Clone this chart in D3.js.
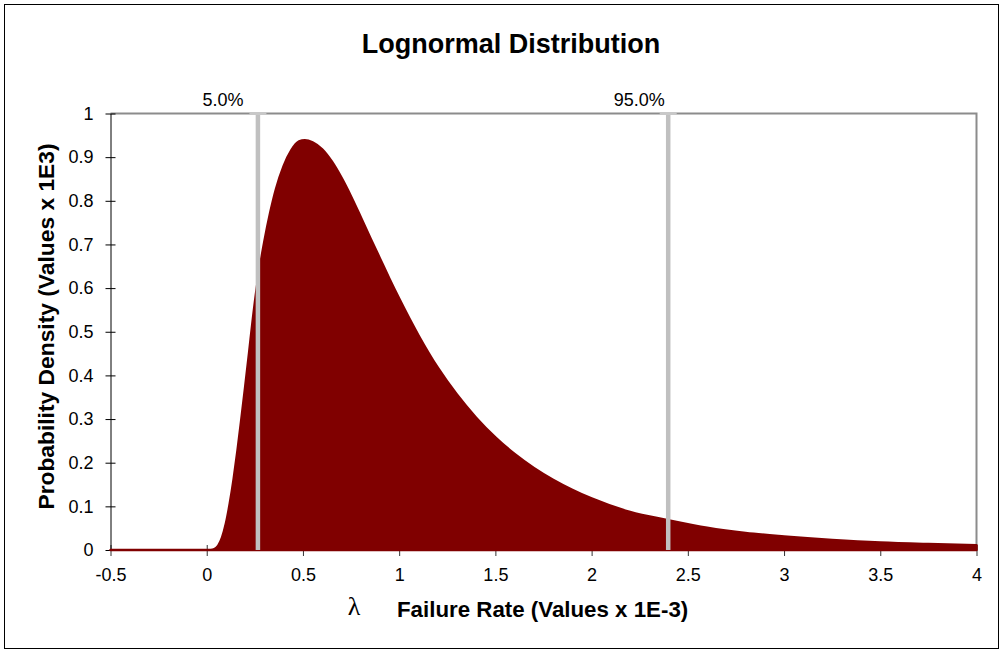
<!DOCTYPE html>
<html>
<head>
<meta charset="utf-8">
<script src="https://cdn.jsdelivr.net/npm/d3@7"></script>
<style>
  html, body { margin: 0; padding: 0; background: #fff; }
  svg { display: block; font-family: Arial, "Liberation Sans", sans-serif; }
</style>
</head>
<body>
<svg id="chart" width="1002" height="652"></svg>
<script>
// Failure rate (x 1E-3) sample points
const rates = [
  -0.5, 0, 0.02, 0.04, 0.06, 0.08, 0.10, 0.12, 0.14, 0.16, 0.18, 0.20,
  0.22, 0.24, 0.26, 0.28, 0.30, 0.33, 0.36, 0.40, 0.44, 0.48, 0.51, 0.55,
  0.60, 0.65, 0.70, 0.75, 0.80, 0.85, 0.90, 0.95, 1.0, 1.1, 1.2, 1.3, 1.4,
  1.5, 1.6, 1.7, 1.8, 1.9, 2.0, 2.2, 2.4, 2.6, 2.8, 3.0, 3.25, 3.5, 3.75, 4.0
];
// Probability density (x 1E3) at each rate
const densities = [
  0, 0, 0, 0.002, 0.010, 0.029, 0.061, 0.107, 0.163, 0.228, 0.300, 0.374,
  0.451, 0.530, 0.600, 0.658, 0.708, 0.773, 0.827, 0.880, 0.916, 0.936, 0.939, 0.934,
  0.918, 0.890, 0.853, 0.810, 0.763, 0.715, 0.668, 0.621, 0.576, 0.492, 0.418, 0.356, 0.303,
  0.258, 0.220, 0.188, 0.161, 0.138, 0.118, 0.087, 0.068, 0.051, 0.039, 0.031, 0.023, 0.017, 0.0135, 0.011
];
// Percentile markers
const markerValues = [0.266, 2.398];
const markerLabels = ["5.0%", "95.0%"];

const xTicks = [-0.5, 0, 0.5, 1, 1.5, 2, 2.5, 3, 3.5, 4];
const yTicks = [0, 0.1, 0.2, 0.3, 0.4, 0.5, 0.6, 0.7, 0.8, 0.9, 1];

const titleText = "Lognormal Distribution";
const xTitleText = "Failure Rate (Values x 1E-3)";
const yTitleText = "Probability Density (Values x 1E3)";

// Layout
const plot = { left: 110.5, right: 976.5, top: 113.5, bottom: 550 };
const markerLabelDx = [-35, -29];

const svg = d3.select("#chart");

const x = d3.scaleLinear().domain([-0.5, 4]).range([plot.left, plot.right]);
const y = d3.scaleLinear().domain([0, 1]).range([plot.bottom, plot.top]);

// Plain hyphen for negative tick values
const fmt = d => String(d);

// Outer chart border
svg.append("rect")
  .attr("x", 4.5).attr("y", 4.5)
  .attr("width", 994).attr("height", 644)
  .attr("fill", "none").attr("stroke", "#000").attr("stroke-width", 1);

// Title
svg.append("text")
  .attr("x", 511).attr("y", 53)
  .attr("text-anchor", "middle")
  .attr("font-size", 27).attr("font-weight", "bold")
  .attr("fill", "#000")
  .text(titleText);

// Plot frame (top and right edges)
svg.append("path")
  .attr("d", `M${plot.left},${plot.top}H${plot.right}V${plot.bottom}`)
  .attr("fill", "none").attr("stroke", "#8c8c8c").attr("stroke-width", 2);

// X axis
const xAxis = d3.axisBottom(x)
  .tickValues(xTicks)
  .tickSizeInner(6).tickSizeOuter(0)
  .tickPadding(12)
  .tickFormat(fmt);
const gx = svg.append("g")
  .attr("transform", `translate(0,${plot.bottom})`)
  .call(xAxis);
gx.select(".domain").attr("stroke", "#909090");
gx.selectAll(".tick line").attr("stroke", "#333").attr("y1", -5).attr("y2", 6);
gx.selectAll(".tick text")
  .attr("font-size", 18).attr("font-family", "Arial, 'Liberation Sans', sans-serif")
  .attr("fill", "#000");

// Y axis
const yAxis = d3.axisLeft(y)
  .tickValues(yTicks)
  .tickSizeInner(5).tickSizeOuter(0)
  .tickPadding(12)
  .tickFormat(fmt);
const gy = svg.append("g")
  .attr("transform", `translate(${plot.left},0)`)
  .call(yAxis);
gy.select(".domain").attr("stroke", "#000");
gy.selectAll(".tick line").attr("stroke", "#000").attr("x1", 5).attr("x2", -5);
gy.selectAll(".tick text")
  .attr("font-size", 18).attr("font-family", "Arial, 'Liberation Sans', sans-serif")
  .attr("fill", "#000");

// Density area
const pts = rates.map((r, i) => [r, densities[i]]);
const area = d3.area()
  .x(d => x(d[0]))
  .y0(y(0))
  .y1(d => y(d[1]))
  .curve(d3.curveMonotoneX);
svg.append("path")
  .datum(pts)
  .attr("d", area)
  .attr("fill", "#800000")
  .attr("stroke", "#800000")
  .attr("stroke-width", 2.5)
  .attr("stroke-linejoin", "round");

// Percentile marker lines with caps
const markers = svg.append("g");
markerValues.forEach((v, i) => {
  markers.append("line")
    .attr("x1", x(v)).attr("x2", x(v))
    .attr("y1", plot.top).attr("y2", plot.bottom)
    .attr("stroke", "#c0c0c0").attr("stroke-width", 4.5);
  markers.append("rect")
    .attr("x", x(v) - 8.5).attr("y", plot.top - 1.5)
    .attr("width", 17).attr("height", 3)
    .attr("fill", "#c8c8c8");
  markers.append("text")
    .attr("x", x(v) + markerLabelDx[i]).attr("y", 106)
    .attr("text-anchor", "middle")
    .attr("font-size", 18).attr("fill", "#000")
    .text(markerLabels[i]);
});

// Axis titles
svg.append("text")
  .attr("x", 354).attr("y", 615)
  .attr("text-anchor", "middle")
  .attr("font-family", "'Liberation Serif', 'Times New Roman', serif")
  .attr("font-size", 26).attr("fill", "#000")
  .text("λ");

svg.append("text")
  .attr("x", 397).attr("y", 617)
  .attr("font-size", 22.3).attr("font-weight", "bold").attr("fill", "#000")
  .text(xTitleText);

svg.append("text")
  .attr("transform", `translate(54,326.5) rotate(-90)`)
  .attr("text-anchor", "middle")
  .attr("font-size", 22.8).attr("font-weight", "bold").attr("fill", "#000")
  .text(yTitleText);
</script>
</body>
</html>
